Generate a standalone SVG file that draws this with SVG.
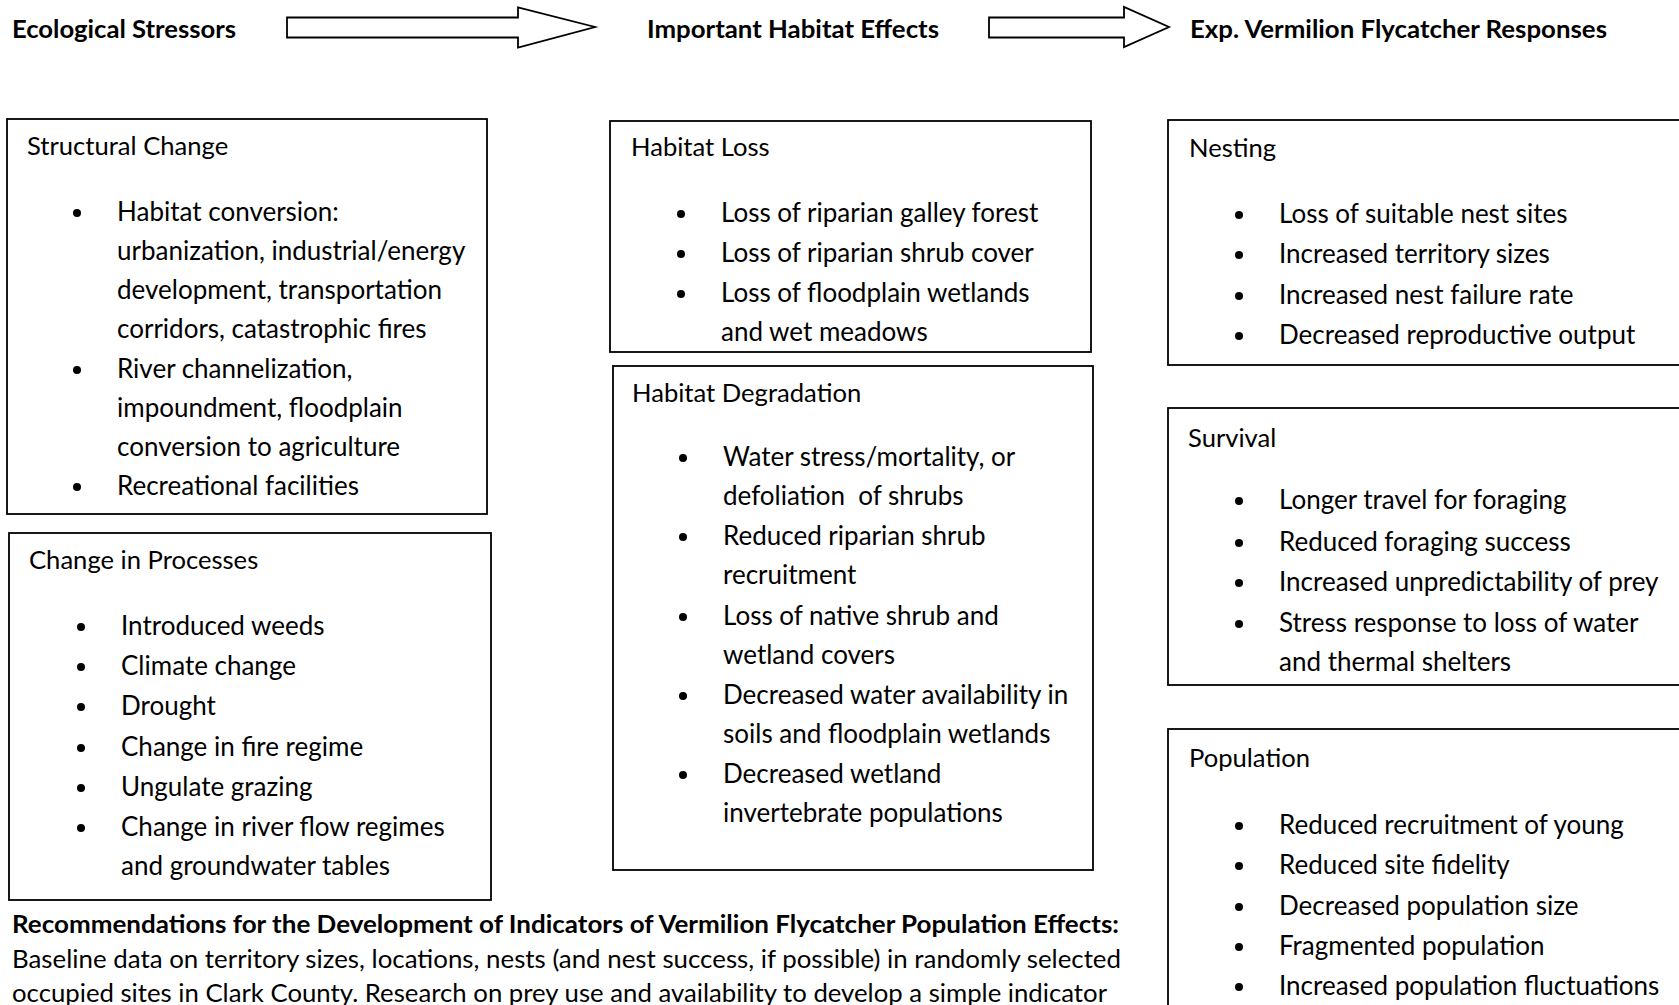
<svg xmlns="http://www.w3.org/2000/svg" width="1679" height="1005" viewBox="0 0 1679 1005">
<style>
.bg{fill:#ffffff}
.box{fill:#ffffff;stroke:#000000;stroke-width:1.8}
.arrow{fill:#ffffff;stroke:#000000;stroke-width:1.8;stroke-linejoin:miter}
.hdr{font-family:Lato,"Liberation Sans",sans-serif;font-weight:bold;font-size:25px;fill:#000000}
.ttl{font-family:Lato,"Liberation Sans",sans-serif;font-size:25.6px;fill:#000000}
.txt{font-family:Lato,"Liberation Sans",sans-serif;font-size:26px;fill:#000000}
.rec{font-family:Lato,"Liberation Sans",sans-serif;font-size:25px;fill:#000000}
.recb{font-family:Lato,"Liberation Sans",sans-serif;font-weight:bold;font-size:25px;fill:#000000}
.dot{fill:#000000}
</style>
<rect class="bg" x="0" y="0" width="1679" height="1005"/>

<g id="headers">
<text id="hdr-stressors" class="hdr" x="12" y="38" textLength="224" lengthAdjust="spacingAndGlyphs">Ecological Stressors</text>
<text id="hdr-habitat" class="hdr" x="647" y="38" textLength="292" lengthAdjust="spacingAndGlyphs">Important Habitat Effects</text>
<text id="hdr-responses" class="hdr" x="1190" y="38" textLength="417" lengthAdjust="spacingAndGlyphs">Exp. Vermilion Flycatcher Responses</text>
</g>

<g id="connectors">
<polygon class="arrow" points="287,17.5 518,17.5 518,7.5 595,27 518,47.5 518,37.5 287,37.5"/>
<polygon class="arrow" points="989,17.5 1124,17.5 1124,7 1169,27 1124,47 1124,37.5 989,37.5"/>
</g>

<g id="structural-change">
<rect class="box" x="7" y="119" width="480" height="395"/>
<text class="ttl" x="27" y="155">Structural Change</text>
<circle class="dot" cx="77" cy="213" r="4"/>
<text class="txt" x="117" y="221">Habitat conversion:</text>
<text class="txt" x="117" y="260">urbanization, industrial/energy</text>
<text class="txt" x="117" y="299">development, transportation</text>
<text class="txt" x="117" y="338">corridors, catastrophic fires</text>
<circle class="dot" cx="77" cy="370" r="4"/>
<text class="txt" x="117" y="378">River channelization,</text>
<text class="txt" x="117" y="417">impoundment, floodplain</text>
<text class="txt" x="117" y="456">conversion to agriculture</text>
<circle class="dot" cx="77" cy="487" r="4"/>
<text class="txt" x="117" y="495">Recreational facilities</text>
</g>

<g id="change-in-processes">
<rect class="box" x="9" y="533" width="482" height="367"/>
<text class="ttl" x="29" y="569">Change in Processes</text>
<circle class="dot" cx="81" cy="627" r="4"/>
<text class="txt" x="121" y="635">Introduced weeds</text>
<circle class="dot" cx="81" cy="667" r="4"/>
<text class="txt" x="121" y="675">Climate change</text>
<circle class="dot" cx="81" cy="707" r="4"/>
<text class="txt" x="121" y="715">Drought</text>
<circle class="dot" cx="81" cy="748" r="4"/>
<text class="txt" x="121" y="756">Change in fire regime</text>
<circle class="dot" cx="81" cy="788" r="4"/>
<text class="txt" x="121" y="796">Ungulate grazing</text>
<circle class="dot" cx="81" cy="828" r="4"/>
<text class="txt" x="121" y="836">Change in river flow regimes</text>
<text class="txt" x="121" y="875">and groundwater tables</text>
</g>

<g id="habitat-loss">
<rect class="box" x="610" y="121" width="481" height="231"/>
<text class="ttl" x="631" y="156">Habitat Loss</text>
<circle class="dot" cx="681" cy="214" r="4"/>
<text class="txt" x="721" y="222">Loss of riparian galley forest</text>
<circle class="dot" cx="681" cy="254" r="4"/>
<text class="txt" x="721" y="262">Loss of riparian shrub cover</text>
<circle class="dot" cx="681" cy="294" r="4"/>
<text class="txt" x="721" y="302">Loss of floodplain wetlands</text>
<text class="txt" x="721" y="341">and wet meadows</text>
</g>

<g id="habitat-degradation">
<rect class="box" x="613" y="366" width="480" height="504"/>
<text class="ttl" x="632" y="402">Habitat Degradation</text>
<circle class="dot" cx="683" cy="458" r="4"/>
<text class="txt" x="723" y="466">Water stress/mortality, or</text>
<text class="txt" x="723" y="505" xml:space="preserve">defoliation  of shrubs</text>
<circle class="dot" cx="683" cy="537" r="4"/>
<text class="txt" x="723" y="545">Reduced riparian shrub</text>
<text class="txt" x="723" y="584">recruitment</text>
<circle class="dot" cx="683" cy="617" r="4"/>
<text class="txt" x="723" y="625">Loss of native shrub and</text>
<text class="txt" x="723" y="664">wetland covers</text>
<circle class="dot" cx="683" cy="696" r="4"/>
<text class="txt" x="723" y="704">Decreased water availability in</text>
<text class="txt" x="723" y="743">soils and floodplain wetlands</text>
<circle class="dot" cx="683" cy="775" r="4"/>
<text class="txt" x="723" y="783">Decreased wetland</text>
<text class="txt" x="723" y="822">invertebrate populations</text>
</g>

<g id="nesting">
<rect class="box" x="1168" y="120" width="530" height="245"/>
<text class="ttl" x="1189" y="157">Nesting</text>
<circle class="dot" cx="1239" cy="215" r="4"/>
<text class="txt" x="1279" y="223">Loss of suitable nest sites</text>
<circle class="dot" cx="1239" cy="255" r="4"/>
<text class="txt" x="1279" y="263">Increased territory sizes</text>
<circle class="dot" cx="1239" cy="296" r="4"/>
<text class="txt" x="1279" y="304">Increased nest failure rate</text>
<circle class="dot" cx="1239" cy="336" r="4"/>
<text class="txt" x="1279" y="344">Decreased reproductive output</text>
</g>

<g id="survival">
<rect class="box" x="1168" y="408" width="530" height="277"/>
<text class="ttl" x="1188" y="447">Survival</text>
<circle class="dot" cx="1239" cy="501" r="4"/>
<text class="txt" x="1279" y="509">Longer travel for foraging</text>
<circle class="dot" cx="1239" cy="543" r="4"/>
<text class="txt" x="1279" y="551">Reduced foraging success</text>
<circle class="dot" cx="1239" cy="583" r="4"/>
<text class="txt" x="1279" y="591">Increased unpredictability of prey</text>
<circle class="dot" cx="1239" cy="624" r="4"/>
<text class="txt" x="1279" y="632">Stress response to loss of water</text>
<text class="txt" x="1279" y="671">and thermal shelters</text>
</g>

<g id="population">
<rect class="box" x="1168" y="729" width="530" height="300"/>
<text class="ttl" x="1189" y="767">Population</text>
<circle class="dot" cx="1239" cy="826" r="4"/>
<text class="txt" x="1279" y="834">Reduced recruitment of young</text>
<circle class="dot" cx="1239" cy="866" r="4"/>
<text class="txt" x="1279" y="874">Reduced site fidelity</text>
<circle class="dot" cx="1239" cy="907" r="4"/>
<text class="txt" x="1279" y="915">Decreased population size</text>
<circle class="dot" cx="1239" cy="947" r="4"/>
<text class="txt" x="1279" y="955">Fragmented population</text>
<circle class="dot" cx="1239" cy="987" r="4"/>
<text class="txt" x="1279" y="995">Increased population fluctuations</text>
</g>

<g id="recommendations">
<text class="recb" x="12" y="933" textLength="1107" lengthAdjust="spacingAndGlyphs">Recommendations for the Development of Indicators of Vermilion Flycatcher Population Effects:</text>
<text class="rec" x="12" y="968" textLength="1109" lengthAdjust="spacingAndGlyphs">Baseline data on territory sizes, locations, nests (and nest success, if possible) in randomly selected</text>
<text class="rec" x="12" y="1002" textLength="1095" lengthAdjust="spacingAndGlyphs">occupied sites in Clark County. Research on prey use and availability to develop a simple indicator</text>
</g>
</svg>
